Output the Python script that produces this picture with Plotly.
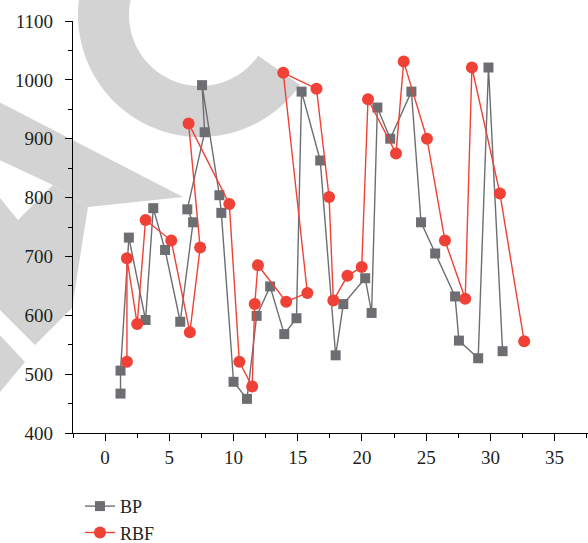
import numpy as np
import plotly.graph_objects as go

# ---- data ----
bp_x = [1.2, 1.2, 1.85, 3.15, 3.75, 4.67, 5.85, 6.85, 6.4, 7.75, 7.55, 8.9, 9.05, 10.0,
        11.05, 11.8, 12.85, 13.95, 14.9, 15.3, 16.75, 17.95, 18.55, 20.25, 20.75, 21.2,
        22.2, 23.85, 24.6, 25.7, 27.25, 27.55, 29.05, 29.85, 30.95]
bp_y = [467, 506, 732, 592, 782, 711, 589, 758, 780, 911, 991, 804, 774, 487,
        458, 599, 649, 568, 595, 980, 863, 532, 619, 663, 604, 953,
        900, 980, 758, 705, 632, 557, 527, 1021, 539]

rbf_x = [1.7, 1.7, 2.5, 3.15, 5.15, 6.6, 7.4, 6.5, 9.67, 10.45, 11.45, 11.65, 11.9, 14.1,
         15.75, 13.87, 16.46, 17.44, 17.77, 18.87, 19.98, 20.47, 22.65, 23.25, 25.06,
         26.46, 28.04, 28.56, 30.74, 32.63]
rbf_y = [521, 697, 585, 762, 727, 571, 715, 926, 789, 521, 479, 619, 685, 623,
         638, 1012, 985, 801, 625, 667, 682, 967, 875, 1031, 900,
         727, 628, 1021, 807, 556]

x_ticks = [0, 5, 10, 15, 20, 25, 30, 35]
y_ticks = [400, 500, 600, 700, 800, 900, 1000, 1100]

# ---- layout geometry ----
W, H = 588, 543
ML, MR, MT, MB = 73, 0, 21, 110
PW, PH = W - ML - MR, H - MT - MB

def px2paper(px, py):
    return (px - ML) / PW, (H - MB - py) / PH

def path_from_px(points):
    pts = [px2paper(x, y) for x, y in points]
    return "M " + " L ".join(f"{x:.4f},{y:.4f}" for x, y in pts) + " Z"

# watermark (light grey decoration behind the plot)
wm = "#d3d3d3"
cx, cy, R, r = 200, 15, 122, 71
ang = np.radians(np.linspace(200, 35, 80))
outer = [(cx + R * np.cos(a), cy + R * np.sin(a)) for a in ang]
inner = [(cx + r * np.cos(a), cy + r * np.sin(a)) for a in ang[::-1]]
ring = outer + inner
arm = [(-5, 100), (183, 197), (88, 207), (53, 185), (-5, 158)]
stem = [(53, 185), (88, 207), (72, 308), (35, 345), (-5, 305), (-5, 192), (18, 220)]
foot = [(-5, 330), (25, 362), (-5, 398)]

shapes = []
for poly in (ring, arm, stem, foot):
    shapes.append(dict(type="path", path=path_from_px(poly), xref="paper", yref="paper",
                       fillcolor=wm, line=dict(width=0), layer="below"))

grey = "#6d6e71"
red = "#ef4136"

fig = go.Figure()
fig.add_trace(go.Scatter(x=bp_x, y=bp_y, mode="lines+markers", name="BP",
                         line=dict(color=grey, width=1.4),
                         marker=dict(symbol="square", size=10, color=grey)))
fig.add_trace(go.Scatter(x=rbf_x, y=rbf_y, mode="lines+markers", name="RBF",
                         line=dict(color=red, width=1.4),
                         marker=dict(symbol="circle", size=12, color=red)))

font = dict(family="Liberation Serif, Times New Roman, serif", size=19, color="#231f20")
legend_font = dict(family="Liberation Serif, Times New Roman, serif", size=18, color="#231f20")
axis_common = dict(showline=True, linecolor="black", linewidth=1.3, showgrid=False,
                   zeroline=False, ticks="outside", ticklen=7, tickwidth=1.3,
                   tickcolor="black", tickfont=font, automargin=False)

fig.update_layout(
    width=W, height=H,
    margin=dict(l=ML, r=MR, t=MT, b=MB, pad=0, autoexpand=False),
    paper_bgcolor="white", plot_bgcolor="rgba(0,0,0,0)",
    font=font,
    shapes=shapes,
    showlegend=True,
    legend=dict(xref="container", yref="container", x=0.136, y=0.1015,
                xanchor="left", yanchor="top",
                bgcolor="rgba(0,0,0,0)", font=legend_font, tracegroupgap=0),
    xaxis=dict(range=[-2.5, 37.6], tickvals=x_ticks, ticktext=[str(v) for v in x_ticks],
               minor=dict(dtick=2.5, tick0=0, ticklen=3.5, tickwidth=1.3, tickcolor="black",
                          ticks="outside", showgrid=False),
               **axis_common),
    yaxis=dict(range=[400, 1100], tickvals=y_ticks, ticktext=[str(v) for v in y_ticks],
               minor=dict(dtick=50, tick0=0, ticklen=3.5, tickwidth=1.3, tickcolor="black",
                          ticks="outside", showgrid=False),
               ticklabelstandoff=8,
               **axis_common),
)

fig.write_html("out.html", config={"displayModeBar": False},
               post_script="document.body.style.margin='0';document.body.style.padding='0';")
